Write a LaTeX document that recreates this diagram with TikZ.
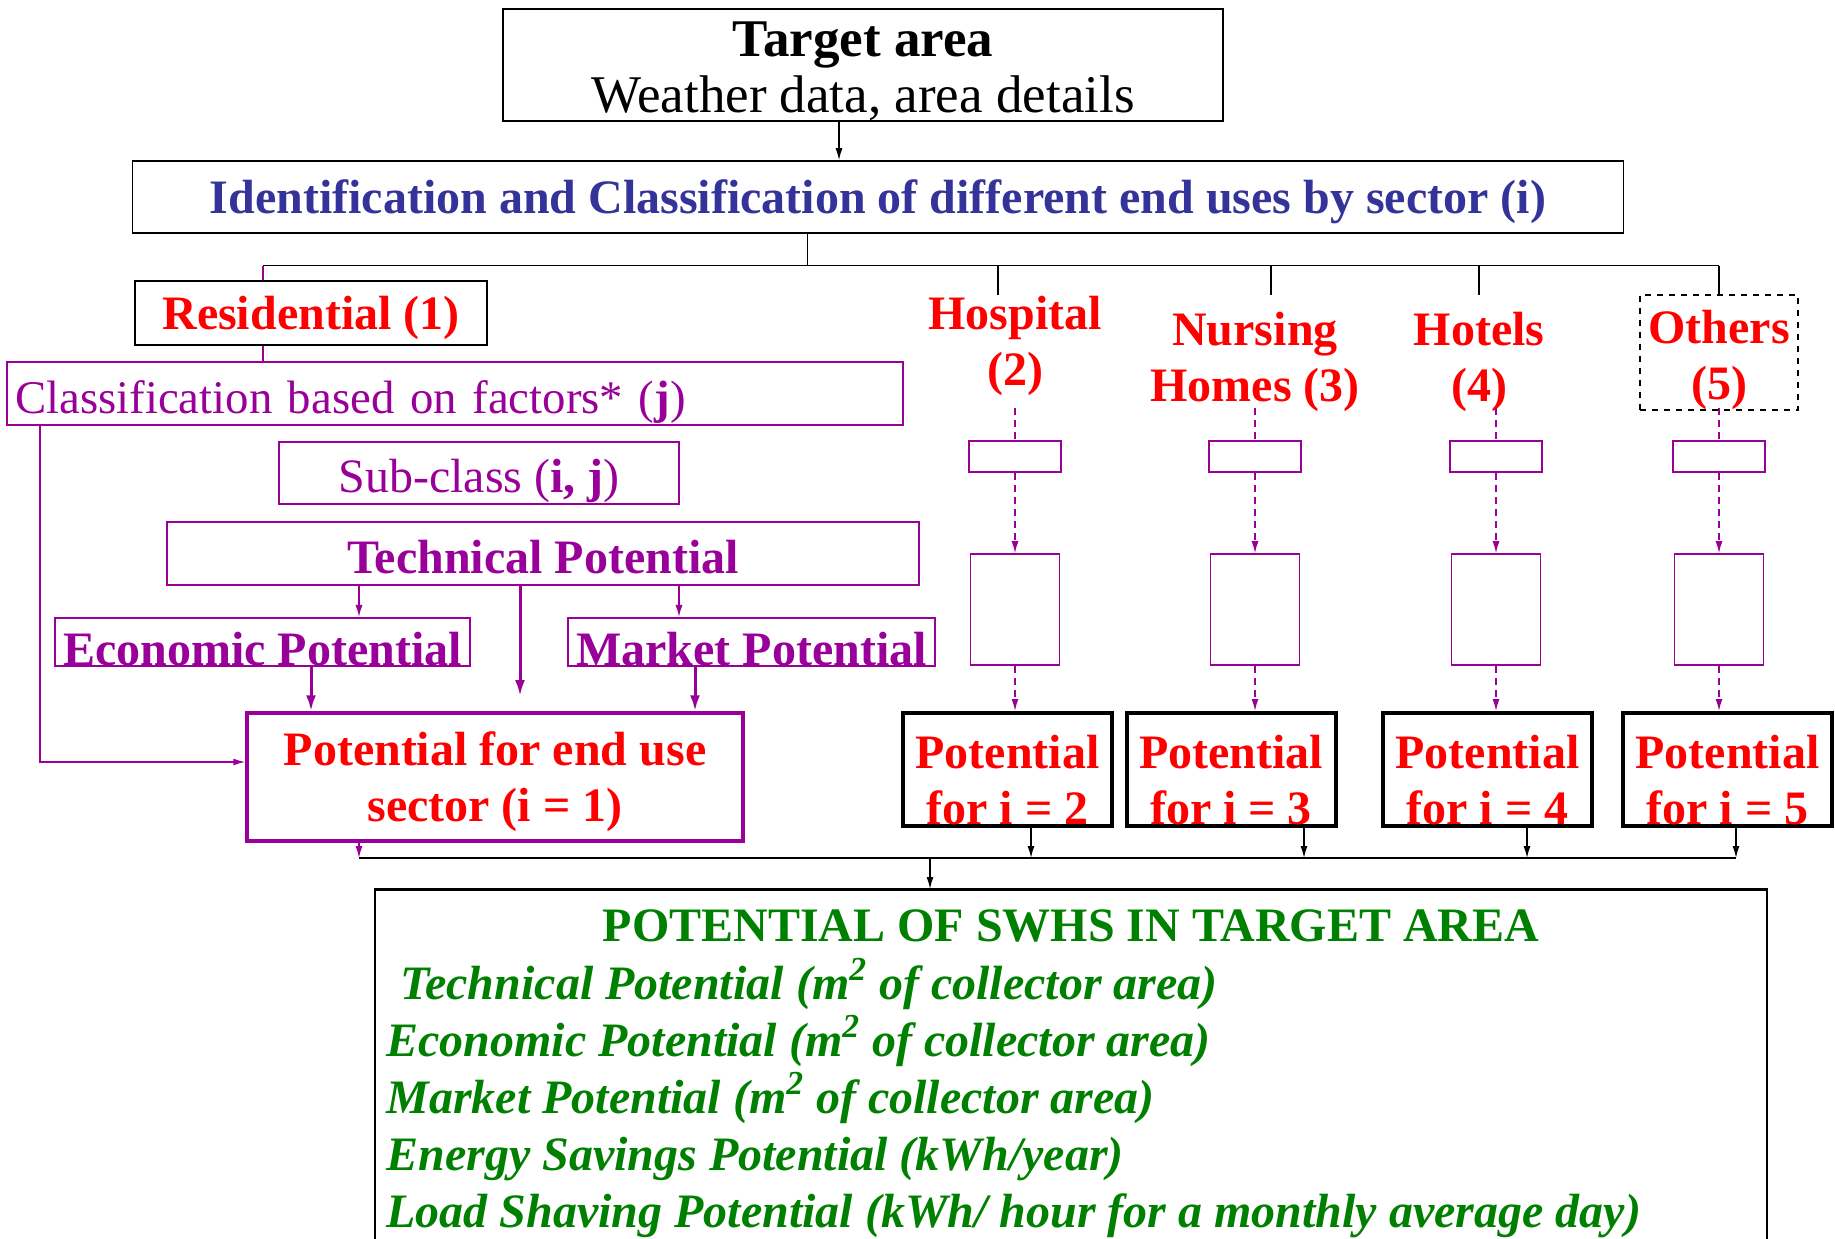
\documentclass[tikz,border=0pt]{standalone}
\usepackage{fontspec}
\setmainfont{Liberation Serif}
\usepackage{xcolor}
\usetikzlibrary{arrows.meta}

\definecolor{swpurple}{RGB}{153,0,153}
\definecolor{swred}{RGB}{255,0,0}
\definecolor{swblue}{RGB}{51,51,153}
\definecolor{swgreen}{RGB}{0,128,0}
\newcommand{\topstrut}[1]{\rule{0pt}{#1}}

\begin{document}
\begin{tikzpicture}[x=0.5pt, y=-0.5pt,
    font=\fontsize{24}{28}\selectfont,
    box/.style={draw, line width=0.8pt, inner sep=0pt, align=center},
    pbox/.style={box, draw=swpurple},
    potbox/.style={box, line width=2pt, text=swred, font=\fontsize{24}{28}\selectfont\bfseries},
    sector/.style={text=swred, font=\fontsize{24}{28}\selectfont\bfseries, align=center, inner sep=0pt},
    flow/.style={-{Latex[length=6pt,width=3.5pt]}, line width=0.7pt},
    pflow/.style={flow, draw=swpurple},
    thickflow/.style={-{Latex[length=8pt,width=5pt]}, line width=1.5pt, draw=swpurple},
    dflow/.style={pflow, dash pattern=on 3.5pt off 2.5pt}]

      \useasboundingbox (0,0) rectangle (1835,1238);

      % top of the tree
      \node[box, minimum width=360pt, minimum height=56pt, font=\fontsize{26.5}{28}\selectfont]
        (tgt) at (863,65) {\topstrut{24pt}\textbf{Target area}\\Weather data, area details};
      \node[box, minimum width=745.5pt, minimum height=36pt, text=swblue, font=\fontsize{24}{28}\selectfont\bfseries]
        (ident) at (878,197) {\topstrut{21.5pt}Identification and Classification of different end uses by sector (i)};
      \draw[flow] (tgt.south -| 839,0) -- (ident.north -| 839,0);

      \coordinate (tee) at (807.5,265.7);
      \coordinate (busL) at (263,265.7);
      \coordinate (busR) at (1719,265.7);
      \draw[line width=0.7pt] (ident.south -| tee) -- (tee);
      \draw[line width=0.7pt] (busL) -- (busR);

      % residential branch
      \node[box, minimum width=176pt, minimum height=32pt, text=swred, font=\fontsize{24}{28}\selectfont\bfseries]
        (res) at (311,313) {\topstrut{21.5pt}Residential (1)};
      \node[pbox, text=swpurple, align=left, inner xsep=4pt, text width=440pt, minimum height=31.5pt,
            font=\fontsize{23.4}{28}\selectfont]
        (cls) at (455,393.5) {\topstrut{24.5pt}Classification based on factors* (\textbf{j})};
      \node[pbox, text=swpurple, minimum width=200pt, minimum height=31pt]
        (subc) at (479,473) {\topstrut{24.5pt}Sub-class (\textbf{i, j})};
      \node[pbox, text=swpurple, minimum width=376pt, minimum height=31.5pt, font=\fontsize{24}{28}\selectfont\bfseries]
        (tech) at (543,553.5) {\topstrut{20pt}Technical Potential};
      \node[pbox, text=swpurple, minimum width=207.5pt, minimum height=24pt, font=\fontsize{24}{28}\selectfont\bfseries]
        (econ) at (262.5,642) {\topstrut{24pt}Economic Potential};
      \node[pbox, text=swpurple, minimum width=183.5pt, minimum height=24pt, font=\fontsize{24}{28}\selectfont\bfseries]
        (mkt) at (751.5,642) {\topstrut{24pt}Market Potential};
      \node[pbox, line width=1.75pt, minimum width=248pt, minimum height=64pt, text=swred, font=\fontsize{24}{28}\selectfont\bfseries]
        (pot1) at (495,777) {\topstrut{22pt}Potential for end use\\sector (i = 1)};

      \draw[line width=0.7pt, swpurple] (busL) -- (res.north -| busL);
      \draw[line width=0.7pt, swpurple] (res.south -| busL) -- (cls.north -| busL);
      \coordinate (clsturn) at (40,762);
      \draw[pflow] (cls.south -| clsturn) -- (clsturn) -- (clsturn -| pot1.west);
      \draw[pflow] (tech.south -| 359,0) -- (econ.north -| 359,0);
      \draw[pflow] (tech.south -| 679,0) -- (mkt.north -| 679,0);
      \coordinate (techend) at (520,696);
      \draw[thickflow] (tech.south -| techend) -- (techend);
      \draw[thickflow] (econ.south -| 311,0) -- (pot1.north -| 311,0);
      \draw[thickflow] (mkt.south -| 695,0) -- (pot1.north -| 695,0);

      % other sectors
      \node[sector] (hosp) at (1015,345.5) {Hospital\\(2)};
      \node[sector] (nurs) at (1255,362) {Nursing\\Homes (3)};
      \node[sector] (hotl) at (1479,362) {Hotels\\(4)};
      \node[sector, draw=black, line width=0.8pt, dashed, minimum width=79pt, minimum height=55.5pt]
        (oth) at (1719,352.5) {\topstrut{24.5pt}Others\\(5)};
      \foreach \x in {998,1271,1479}
        \draw[line width=0.7pt] (\x,265.7) -- (\x,295);
      \draw[line width=0.7pt] (busR) -- (oth.north);

      \foreach \n/\dx/\px in {2/1015/1007.5, 3/1255/1231, 4/1496/1487.5, 5/1719/1727.5} {
        \node[pbox, minimum width=46pt, minimum height=15.5pt] (sub\n) at (\dx,456.5) {};
        \node[pbox, minimum width=44.5pt, minimum height=55.5pt] (blk\n) at (\dx,609.5) {};
        \node[potbox, minimum width=104.5pt, minimum height=56.5pt] (pot\n) at (\px,769.5)
          {\topstrut{27pt}Potential\\for i = \n};
        \draw[dflow, -] (\dx,408) -- (sub\n.north);
        \draw[dflow] (sub\n.south) -- (blk\n.north);
        \draw[dflow] (blk\n.south) -- (pot\n.north -| blk\n);
      }

      % collecting bus
      \coordinate (busB) at (359,858);
      \coordinate (busBR) at (1736,858);
      \draw[pflow] (pot1.south -| busB) -- (busB);
      \draw[line width=0.7pt] (busB) -- (busBR);
      \foreach \n/\x in {2/1031, 3/1304, 4/1527, 5/1736}
        \draw[flow] (pot\n.south -| \x,0) -- (\x,858);

      % result
      \node[box, anchor=north, minimum width=696.25pt, minimum height=400pt] (swhs) at (1071,889) {};
      \draw[line width=1.5pt] (swhs.north west) -- (swhs.north east);
      \draw[flow] (930,858) -- (swhs.north -| 930,0);
      \node[anchor=base, text=swgreen, font=\fontsize{24}{28}\selectfont\bfseries]
        (swtitle) at (1071,941) {POTENTIAL OF SWHS IN TARGET AREA};
      \foreach \t [count=\i] in {{\hspace{7pt}Technical Potential (m\textsuperscript{2} of collector area)},
                                 {Economic Potential (m\textsuperscript{2} of collector area)},
                                 {Market Potential (m\textsuperscript{2} of collector area)},
                                 {Energy Savings Potential (kWh/year)},
                                 {Load Shaving Potential (kWh/ hour for a monthly average day)}}
        \node[anchor=base west, inner sep=0pt, text=swgreen, font=\fontsize{24}{28}\selectfont\bfseries\itshape]
          (line\i) at (386,{999+57*(\i-1)}) {\t};
    \end{tikzpicture}
\end{document}
